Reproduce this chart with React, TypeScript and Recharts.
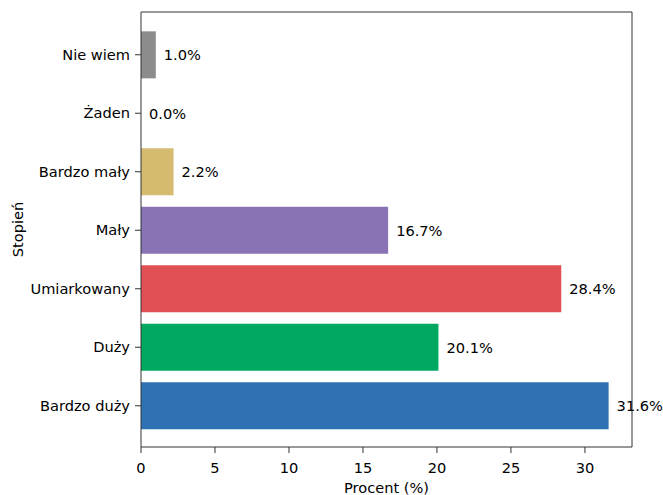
import { BarChart, Bar, XAxis, YAxis, Cell, LabelList, CartesianGrid } from 'recharts'

document.body.style.margin = '0'

const categories = ['Nie wiem', 'Żaden', 'Bardzo mały', 'Mały', 'Umiarkowany', 'Duży', 'Bardzo duży']
const percents = [1.0, 0.0, 2.2, 16.7, 28.4, 20.1, 31.6]
const colors = ['#8c8c8c', '#8c8c8c', '#d4bb70', '#8a73b5', '#e15055', '#00a862', '#2e72b4']
const xTicks = [0, 5, 10, 15, 20, 25, 30]
const xMax = 33.18

const data = categories.map((name, i) => ({ name, value: percents[i] }))

const FONT = 'DejaVu Sans, sans-serif'
const FS = 14.6
const AXIS = '#333333'

const YLabel = (props: any) => {
  const { viewBox } = props
  const x = viewBox.x + 17
  const y = viewBox.y + viewBox.height / 2
  return (
    <text
      x={x}
      y={y}
      transform={`rotate(-90, ${x}, ${y})`}
      textAnchor="middle"
      dominantBaseline="central"
      fontFamily={FONT}
      fontSize={FS}
      fill="#000"
    >
      Stopień
    </text>
  )
}

// frame lines along the top and right edges of the plot area (matplotlib spines)
const topEdge = ({ offset }: any) => [offset.top]
const rightEdge = ({ offset }: any) => [offset.left + offset.width]

export default function App() {
  return (
    <BarChart
      width={663}
      height={495}
      data={data}
      layout="vertical"
      margin={{ top: 12, right: 31, left: 0, bottom: 0 }}
      barCategoryGap="10%"
    >
      <CartesianGrid
        stroke={AXIS}
        strokeWidth={1}
        horizontalCoordinatesGenerator={topEdge}
        verticalCoordinatesGenerator={rightEdge}
      />
      <XAxis
        type="number"
        domain={[0, xMax]}
        ticks={xTicks}
        allowDataOverflow
        height={48}
        tickSize={6}
        tickMargin={10}
        stroke={AXIS}
        tick={{ fill: '#000', fontSize: FS, fontFamily: FONT }}
        label={{ value: 'Procent (%)', position: 'insideBottom', offset: 2, fill: '#000', fontSize: FS, fontFamily: FONT }}
      />
      <YAxis
        type="category"
        dataKey="name"
        width={141}
        tickSize={6}
        tickMargin={5}
        padding={{ top: 13.5, bottom: 12 }}
        stroke={AXIS}
        tick={{ fill: '#000', fontSize: FS, fontFamily: FONT }}
        label={<YLabel />}
      />
      <Bar dataKey="value" isAnimationActive={false} minPointSize={0.01}>
        {data.map((d, i) => (
          <Cell key={d.name} fill={colors[i]} />
        ))}
        <LabelList
          dataKey="value"
          position="right"
          offset={8}
          formatter={(v: any) => `${Number(v).toFixed(1)}%`}
          fill="#000"
          fontSize={FS}
          fontFamily={FONT}
        />
      </Bar>
    </BarChart>
  )
}
